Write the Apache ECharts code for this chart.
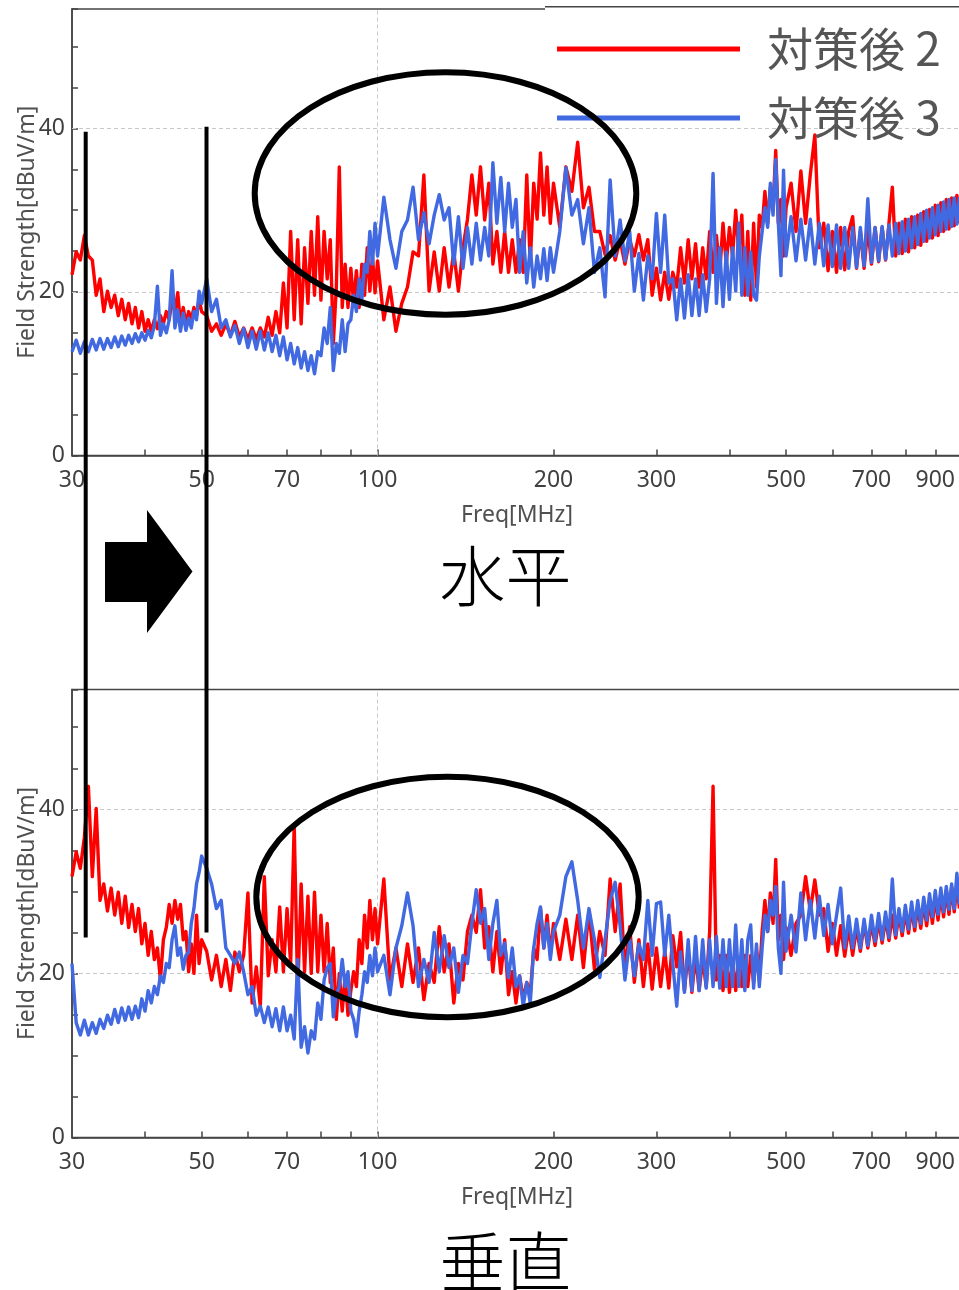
<!DOCTYPE html>
<html>
<head>
<meta charset="utf-8">
<script src="https://cdn.jsdelivr.net/npm/echarts@6/dist/echarts.min.js"></script>
<style>
html, body { margin: 0; padding: 0; background: #ffffff; }
#chart { width: 959px; height: 1290px; }
</style>
</head>
<body>
<div id="chart"></div>
<script>
// Measurement frequencies [MHz], shared by every trace
const freqMHz = [
  30,30.5,31,31.5,32,32.5,33,33.5,34,34.5,35,35.5,36,36.5,37,37.5,38,38.5,39,39.5,40,40.5,41,41.5,42,42.5,43,43.5,44,44.5,45,45.5,46,46.5,47,47.5,48,48.5,49,49.5,50,
  51,52,53,54,55,56,57,58,59,60,61,62,63,64,65,66,67,68,69,70,71,72,73,74,75,76,77,78,79,80,81,82,83,84,85,86,87,88,89,90,91,92,93,94,95,96,97,98,99,100,
  102.5,105,107.5,110,112.5,115,117.5,120,122.5,125,127.5,130,132.5,135,137.5,140,142.5,145,147.5,150,152.5,155,157.5,160,162.5,165,167.5,170,172.5,175,177.5,180,182.5,185,187.5,190,192.5,195,197.5,200,
  205,210,215,220,225,230,235,240,245,250,255,260,265,270,275,280,285,290,295,300,305,310,315,320,325,330,335,340,345,350,355,360,365,370,375,380,385,390,395,400,405,410,415,420,425,430,435,440,445,450,455,460,465,470,475,480,485,490,495,500,
  510,520,530,540,550,560,570,580,590,600,610,620,630,640,650,660,670,680,690,700,710,720,730,740,750,760,770,780,790,800,810,820,830,840,850,860,870,880,890,900,910,920,930,940,950,960,970,980,990
];

// 水平 (horizontal polarization) field strength [dBuV/m]
const horizAfter2 = [
  22.1,24.9,23.9,26.9,24.4,23.9,19.6,21.6,17.6,20.1,18.1,19.6,17.1,19.1,16.6,18.6,16.1,18.1,15.6,17.6,15.2,16.6,15.2,16.6,15.5,17.1,16.1,17.6,16.6,19.1,17.6,19.9,16.1,18.1,16.1,17.6,16.6,18.1,17.1,19.1,17.6,
  17.1,15.2,16.1,14.7,16.1,14.7,16.4,14.5,15.6,14.2,15.6,14.2,15.6,14.5,16.9,14.7,17.6,15,21.1,15.6,27.4,16.6,26.4,16.1,25.4,18.6,27.4,19.6,29.2,19,27.4,21.6,26.4,13.7,20.6,35.3,18.1,23.4,18.1,22.9,18.6,22.6,18.1,23.4,19.6,25.4,20.1,24.4,19.9,23.8,
  16.6,20.6,15.2,18.6,20.6,24.9,24.4,34.3,20.1,24.9,20.1,25.4,20.6,24.9,20.1,25.4,28.9,34.3,29.4,35.3,28.8,33.3,23.4,27.4,22.4,27.4,22.4,26.4,22.4,26.4,22.4,34.3,23.4,33.3,28.9,37,29.4,35.3,28.4,33.3,
  27.9,35.3,32.3,38.3,30.3,32.8,27.4,27.4,24.6,26.9,23.9,26.4,23.4,26.4,24.4,27,23.9,26.4,19.6,22.9,19,22.4,19.1,22.4,20.6,25.4,21.1,26.4,21.6,25.9,20.6,25.4,21.6,27.4,22.4,26.9,22.4,28.4,23.4,27.9,24.4,30,24.9,29.4,19.6,27.4,19,28.4,20.6,29.4,27.9,32.3,28.4,32.8,30.3,37.3,28.4,31.3,24.4,30.3,
  33.3,27.4,34.8,28.4,34.3,39.2,25.4,28.4,22.6,27.4,22.4,27.9,22.7,27.4,29.2,22.9,27.4,22.9,27.9,23.4,27.9,23.7,27.9,23.9,28.4,32.8,24.4,28.4,24.7,28.9,24.9,29.2,25.4,29.4,25.7,29.8,26.2,30.1,26.6,30.6,26.9,30.9,27.4,31.3,27.7,31.5,28.1,31.8,28.4
];
const horizAfter3 = [
  12.7,14.1,12.5,13.9,12.7,14.2,12.9,14.3,13,14.3,13.2,14.5,13.3,14.6,13.5,14.7,13.7,14.9,13.9,15,14.1,15.3,14.4,15.9,20.7,14.7,16.1,15,16.6,22.6,15.6,17.8,15.2,17.4,15.3,16.8,15.6,17.6,16.6,20.1,18.6,
  21.6,17.6,19.1,15.6,16.6,14.5,15.9,13.7,15.5,13.2,15.2,13,15.2,12.9,15,12.7,14.7,12.2,14.5,11.7,13.7,11.2,13.2,10.7,12.7,10.4,12.2,10,12.7,12.2,15.6,13.7,18.1,10.4,13.7,12.5,16.6,12.7,16.1,16.6,19.6,17.6,21.6,19.1,23.4,22.4,27.4,23.4,28.4,24.4,
  31.6,26.4,22.9,27.4,28.8,32.8,26.4,29.7,25.9,29.4,31.9,28.8,30.3,23.4,29.2,22.9,27.9,23.4,28.4,23.9,27.9,24.4,35.8,28.4,34,27.4,33.3,27.9,31.3,22.4,27.4,21.1,25.4,20.6,24.4,21.6,25.3,21.4,25.4,22.4,
  27.4,35.2,29.4,31.3,25.9,30.3,22.4,25.4,19.4,33.7,24.4,28.8,23.8,27.4,20.1,24.7,19,24.4,21.6,29.6,22.4,29.4,21.1,21.6,16.6,21.6,16.8,22.1,17.1,21.6,17.1,22.1,17.6,21.6,34.5,18.6,25.4,18.2,24.9,19.1,25.4,20.1,28.4,19.6,25.4,19.6,24.9,19.6,19,24.4,27.4,30.3,27.9,33.3,29.4,36.2,28.4,22,34.9,24.4,
  29.2,23.8,28.9,23.9,28.9,23.4,28.4,23.2,28.2,23.1,28.2,22.9,27.9,22.9,27.9,23,27.9,23.2,31.4,23.6,27.9,23.8,28,24,28.2,24.4,28.4,24.7,28.6,25,28.9,25.4,29.2,25.8,29.6,26.2,30,26.6,30.3,27,30.6,27.4,31,27.7,31.3,28,31.5,28.3,31.6
];

// 垂直 (vertical polarization) field strength [dBuV/m]
const vertAfter2 = [
  31.8,34.8,32.8,36.6,42.8,31.8,40.1,28.9,30.9,27.6,30.4,27.1,29.9,26.1,29.4,25.6,28.4,25.1,27.9,23.6,26.1,22.2,25.1,21.7,23.1,19.2,24.1,25.6,28.4,26.1,28.9,26.6,28.4,24.1,25.1,20.2,23.6,20,27.1,21.2,24.1,
  22.7,19.2,22.2,18.4,21.7,17.9,22.6,20.2,22.2,29.8,16.4,20.8,16,31.8,19.7,24.1,20.2,28.1,20.2,27.9,21.2,38.1,17.7,30.9,20.2,29.4,20,29.9,20.2,27.1,20.2,26.1,18.9,23.1,14.4,20,15.4,19.7,14.9,17.9,20.2,18.4,24.1,21.2,27.1,23.1,28.9,24.1,27.9,23.6,
  31.5,19.2,23.1,18.4,23.6,18.9,23.1,16.8,21.2,18.9,25.7,20.2,23.6,16.4,21.2,19.2,25.1,27.1,25,30.2,23.1,25.7,20.2,25.1,20,24.1,17.4,20.2,16.4,19.7,16.9,18.9,17.4,23.1,21.7,27.9,23.1,27.1,22.2,26.1,
  21.7,26.6,21.7,27.1,20.7,27.6,20.5,25.1,22.2,31.5,25.1,30.9,20.2,25.7,18.9,24.1,18.4,23.6,18.1,23.1,18.4,22.7,18.2,24.6,20.8,25,17.9,22.6,17.7,22.2,17.9,21.7,18.4,25.1,42.8,19.2,22.2,17.9,22.2,17.7,21.7,17.9,21.7,18.4,22.2,18.4,22.2,18.9,22.7,19.2,25.1,28.9,25.1,29.8,26.1,33.9,24.1,27.1,21.7,25.6,
  22.2,26.1,27.1,31.8,27.6,31.4,27.1,27.9,22.7,26.1,22.2,25.8,22.1,25.6,22.2,25.6,22.7,26.1,23.1,26.1,23.4,26.4,23.7,26.7,24,27.1,24.3,27.2,24.6,27.5,24.9,27.9,25.2,28.2,25.5,28.6,25.8,28.9,26.1,29.3,26.5,29.7,26.9,30.1,27.2,30.5,27.5,30.9,27.9
];
const vertAfter3 = [
  21.2,14,12.5,14.3,12.5,14,12.7,14.4,13.3,14.9,13.8,15.6,14,15.8,14.3,15.9,14.4,16,14.6,16.9,15.4,17.9,16.4,18.4,17.4,19.7,18.9,21.2,20.7,24.1,25.8,22.2,23.1,20.5,22.2,22.6,26.1,27.9,30.9,32.3,34.3,
  32.8,30.9,27.9,28.9,23.1,22.2,21.2,22.6,20.2,17.4,18.4,14.9,16,14,15.9,13.5,15.7,13,15.9,13,14.9,12,21.7,11,13.5,10.3,13,12,16.4,14.4,19.2,20.7,21.2,14.7,17.4,18.4,21.7,18.4,20.2,15.4,14.4,12.3,15.4,17.4,20.2,18.9,22.2,19.7,23.1,20.2,
  22.2,17.4,23.1,25.8,29.8,25.8,18.4,21.7,18.9,25,20.2,24.6,20.7,23.1,17.7,22.2,21.2,26.1,30.2,26.1,27.9,21.7,26.1,28.9,22.2,23.7,19.5,23.1,18.4,19.7,16,18.9,16.4,23.1,26.1,28.1,23.1,26.1,21.7,25.1,
  27.1,31.8,33.6,28.9,23.1,27.9,24.1,19.5,24.1,28.9,31.1,25.8,19.2,24.1,19.7,23.6,21.7,28.9,22.2,28.5,28.7,22.2,27.1,21.2,16,22.6,17.7,24.1,17.9,24.5,17.9,24.1,18.2,24.1,18.4,24.5,18.2,24.1,18.4,24.1,18.4,25.9,18.4,24.1,17.9,24.1,25.9,18.2,23.6,18.4,23.1,27.1,25.1,28.9,27.1,30.6,23.1,20,31.1,22.7,
  27.1,22.6,29.8,24.1,28.9,24.3,29.4,24.6,28.4,23.6,27.1,30.4,23.1,27,23.1,26.6,23.1,26.6,23.4,27.1,23.9,27.3,24.1,27.5,24.4,31.5,24.7,27.9,25.1,28.3,25.4,28.7,25.7,28.9,26.1,29.3,26.5,29.7,26.9,30.1,27.2,30.4,27.5,30.6,27.8,30.9,27.9,32.2,28.4
];

// Axis ticks and labels
const freqTicks = [40, 50, 60, 70, 80, 90, 100, 200, 300, 400, 500, 600, 700, 800, 900];
const freqLabels = [30, 50, 70, 100, 200, 300, 500, 700, 900];
const freqRange = [30, 1000];
const levelRange = [0, 54.6];
const levelStep = 5;
const levelLabelStep = 20;
const levelGrid = [20, 40];
const freqGrid = [100];
const seriesNames = ['対策後 2', '対策後 3'];
const seriesColors = ['#ff0000', '#4169e1'];

const lg = Math.log10;
const toPoints = vals => freqMHz.map((f, i) => [lg(f), vals[i]]);

const axisColor = '#444444';
const labelFont = 'Noto Sans';

function xAxisFor(gridIndex) {
  return {
    type: 'value', gridIndex,
    min: lg(freqRange[0]), max: lg(freqRange[1]),
    axisLine: { show: true, lineStyle: { color: axisColor, width: 1.5 } },
    axisTick: { show: true, inside: true, length: 6, customValues: freqTicks.map(lg),
      lineStyle: { color: axisColor, width: 1.5 } },
    axisLabel: { customValues: freqLabels.map(lg),
      formatter: v => String(Math.round(Math.pow(10, v))),
      fontSize: 23, color: '#404040', fontFamily: labelFont, margin: 13 },
    splitLine: { show: false },
    name: 'Freq[MHz]', nameLocation: 'middle', nameGap: 48, nameMoveOverlap: false,
    nameTextStyle: { fontSize: 23, color: '#505050', fontFamily: labelFont }
  };
}

function yAxisFor(gridIndex) {
  return {
    type: 'value', gridIndex,
    min: levelRange[0], max: levelRange[1], interval: levelStep,
    axisLine: { show: true, lineStyle: { color: axisColor, width: 1.5 } },
    axisTick: { show: true, inside: true, length: 6, lineStyle: { color: axisColor, width: 1.5 } },
    axisLabel: { formatter: v => (v % levelLabelStep === 0 ? String(v) : ''),
      fontSize: 23, color: '#404040', fontFamily: labelFont, margin: 7 },
    splitLine: { show: false },
    name: 'Field Strength[dBuV/m]', nameLocation: 'middle', nameGap: 33, nameMoveOverlap: false,
    nameTextStyle: { fontSize: 23, color: '#505050', fontFamily: labelFont }
  };
}

function gridLines() {
  return {
    silent: true, symbol: 'none', z: 1, animation: false,
    label: { show: false },
    lineStyle: { type: [4, 3], color: '#c8c8c8', width: 1 },
    data: levelGrid.map(v => ({ yAxis: v })).concat(freqGrid.map(f => ({ xAxis: lg(f) })))
  };
}

function trace(name, color, vals, idx, z, withGrid) {
  const s = {
    type: 'line', name, xAxisIndex: idx, yAxisIndex: idx,
    data: toPoints(vals), showSymbol: false, symbol: 'none',
    lineStyle: { width: 3.4, color, join: 'round' }, itemStyle: { color }, z,
    emphasis: { disabled: true }
  };
  if (withGrid) s.markLine = gridLines();
  return s;
}

const chart = echarts.init(document.getElementById('chart'), null, { renderer: 'canvas' });

const gridBase = { left: 72, right: -3, show: true, borderColor: axisColor, borderWidth: 1.5,
  backgroundColor: 'transparent', containLabel: false, outerBoundsMode: 'none' };

chart.setOption({
  animation: false,
  backgroundColor: '#ffffff',
  grid: [
    Object.assign({ top: 9, height: 446.5 }, gridBase),
    Object.assign({ top: 689.5, height: 448 }, gridBase)
  ],
  xAxis: [xAxisFor(0), xAxisFor(1)],
  yAxis: [yAxisFor(0), yAxisFor(1)],
  legend: {
    show: true, orient: 'vertical', left: 557, top: 23, padding: 0,
    itemWidth: 183, itemHeight: 5, itemGap: 17, icon: 'rect', selectedMode: false,
    data: seriesNames,
    textStyle: { fontSize: 46, lineHeight: 52, color: '#555555', fontFamily: 'Noto Sans CJK JP', padding: [0, 0, 0, 22] }
  },
  series: [
    trace(seriesNames[0], seriesColors[0], horizAfter2, 0, 3, true),
    trace(seriesNames[1], seriesColors[1], horizAfter3, 0, 4, false),
    trace(seriesNames[0], seriesColors[0], vertAfter2, 1, 3, true),
    trace(seriesNames[1], seriesColors[1], vertAfter3, 1, 4, false)
  ],
  graphic: [
    // legend frame edge along the top
    { type: 'rect', z: 50, shape: { x: 545, y: 8, width: 414, height: 3 }, style: { fill: '#ffffff' } },
    { type: 'line', z: 50, shape: { x1: 545, y1: 6.8, x2: 959, y2: 6.8 }, style: { stroke: axisColor, lineWidth: 1.5 } },
    // highlighted band
    { type: 'ellipse', z: 100, shape: { cx: 445.5, cy: 193.5, rx: 190.8, ry: 121.3 }, style: { fill: 'none', stroke: '#000000', lineWidth: 6 } },
    { type: 'ellipse', z: 100, shape: { cx: 447.5, cy: 897, rx: 191.2, ry: 120.2 }, style: { fill: 'none', stroke: '#000000', lineWidth: 6 } },
    // markers spanning both plots
    { type: 'line', z: 100, shape: { x1: 85.7, y1: 131.8, x2: 85.7, y2: 937.6 }, style: { stroke: '#000000', lineWidth: 4 } },
    { type: 'line', z: 100, shape: { x1: 206.5, y1: 126.8, x2: 206.5, y2: 932.4 }, style: { stroke: '#000000', lineWidth: 4 } },
    // block arrow
    { type: 'polygon', z: 100, shape: { points: [[105, 542], [147, 542], [147, 510], [192.5, 571.5], [147, 633], [147, 602], [105, 602]] }, style: { fill: '#000000' } },
    // panel titles
    { type: 'text', z: 100, x: 505.5, y: 576, style: { text: '水平', fontSize: 66, fontWeight: 300, fontFamily: 'Noto Sans CJK JP', fill: '#000000', align: 'center', verticalAlign: 'middle' } },
    { type: 'text', z: 100, x: 505.5, y: 1262, style: { text: '垂直', fontSize: 66, fontWeight: 300, fontFamily: 'Noto Sans CJK JP', fill: '#000000', align: 'center', verticalAlign: 'middle' } }
  ]
});
</script>
</body>
</html>
